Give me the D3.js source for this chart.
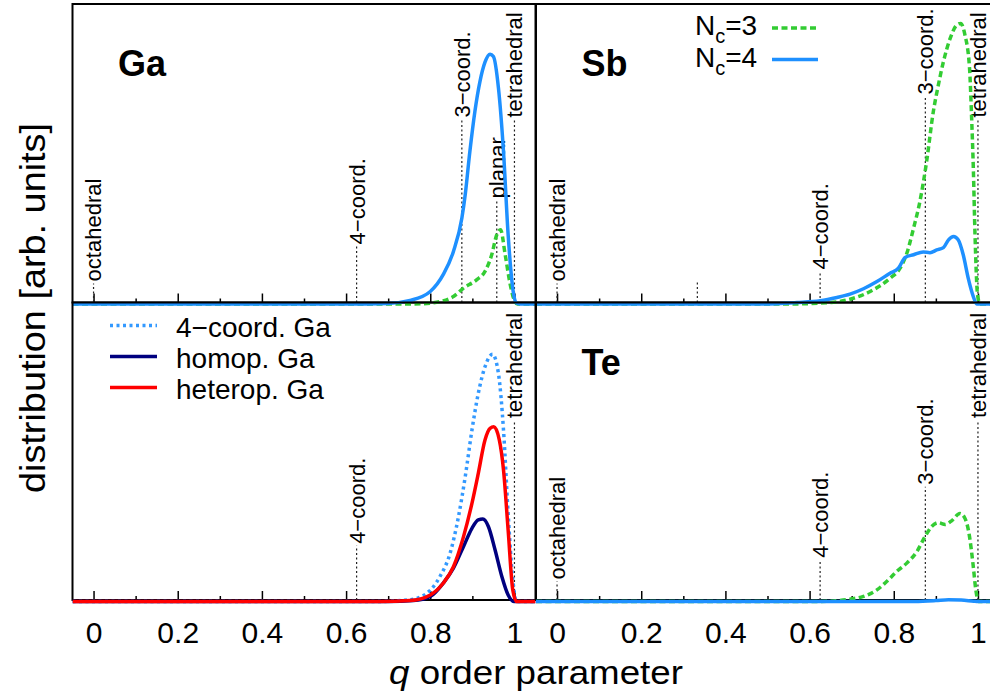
<!DOCTYPE html>
<html>
<head>
<meta charset="utf-8">
<script src="https://cdn.jsdelivr.net/npm/d3@7"></script>
<style>
  html, body { margin: 0; padding: 0; background: #fff; }
  svg { display: block; font-family: "Liberation Sans", Arial, Helvetica, sans-serif; }
</style>
</head>
<body>
<svg id="chart" width="990" height="697"></svg>
<script>
// ---- data: q order parameter distributions, [q, value] with values in arbitrary units ----
const gaNc3 = [[-0.05,0],[0.76,0],[0.80,0.3],[0.823,0.8],[0.855,2.5],[0.879,5.3],[0.910,8.1],[0.930,10.9],[0.946,16.5],[0.958,23.2],[0.967,24.9],[0.978,16.5],[0.990,6.5],[0.999,1.5],[1.007,0],[1.05,0]];
const gaNc4 = [[-0.05,0],[0.60,0],[0.70,0.2],[0.752,1.2],[0.80,4.2],[0.831,9.9],[0.855,17.6],[0.875,28.7],[0.883,36.6],[0.894,51],[0.906,64.5],[0.918,74.5],[0.930,81],[0.942,83.7],[0.950,82.9],[0.962,72.3],[0.974,51],[0.985,23.2],[0.997,4.2],[1.005,0.3],[1.012,0],[1.05,0]];
const sbNc3 = [[-0.05,0],[0.55,0],[0.649,0.5],[0.696,1.6],[0.744,4.2],[0.791,8.6],[0.815,12],[0.831,17],[0.847,25.4],[0.862,34.3],[0.878,47.7],[0.894,64.5],[0.906,73.4],[0.918,81.2],[0.934,89],[0.950,93.5],[0.959,94],[0.969,90.2],[0.980,79],[0.985,62.2],[0.989,45.5],[0.993,23.2],[0.999,3.1],[1.005,0],[1.05,0]];
const sbNc4 = [[-0.05,0],[0.49,0],[0.57,0.5],[0.625,1.1],[0.665,2.2],[0.696,3.3],[0.728,5.1],[0.760,7.5],[0.791,10.3],[0.811,12],[0.827,15.6],[0.847,16.5],[0.870,17.4],[0.886,17.2],[0.902,18.1],[0.918,18.9],[0.930,21.5],[0.942,22.6],[0.953,21.5],[0.965,16.5],[0.977,8.6],[0.989,2.5],[0.997,0],[1.05,0]];
const gaCoord4 = [[-0.05,0],[0.673,0],[0.752,0.6],[0.792,2.8],[0.823,8.4],[0.847,16.2],[0.867,28.5],[0.883,41.9],[0.899,57.6],[0.914,69.9],[0.930,78.9],[0.948,83.1],[0.962,76.6],[0.974,57.6],[0.985,29.6],[0.996,7.3],[1.005,0],[1.05,0]];
const gaHomop = [[-0.05,0],[0.70,0],[0.76,0.3],[0.80,1.7],[0.831,6.2],[0.855,11.2],[0.879,18.5],[0.899,24.6],[0.914,27.4],[0.925,27.7],[0.938,25.2],[0.954,17.3],[0.970,8.4],[0.985,2.2],[0.999,0],[1.05,0]];
const gaHeterop = [[-0.05,0],[0.68,0],[0.752,0.3],[0.80,2.2],[0.831,6.2],[0.855,11.7],[0.879,21.8],[0.899,33],[0.914,43],[0.930,54.3],[0.942,58.2],[0.951,58.7],[0.964,54.3],[0.974,44.2],[0.985,24],[0.996,3.9],[1.005,0],[1.05,0]];
const teNc3 = [[-0.05,0],[0.62,0],[0.696,0.8],[0.728,1.7],[0.760,3.9],[0.783,6.7],[0.807,10.1],[0.831,12.9],[0.855,16.8],[0.874,21.8],[0.890,25.2],[0.906,26.5],[0.922,25.9],[0.938,27.2],[0.957,29.6],[0.969,28],[0.980,21.8],[0.988,12.9],[0.995,3.9],[1.001,0],[1.05,0]];
const teNc4 = [[-0.05,0],[0.85,0],[0.90,0.3],[0.93,0.6],[0.96,0.5],[0.99,0.1],[1.0,0],[1.05,0]];

// reference geometries on the q axis
const refQ = { octahedral: 0, coord4: 0.625, coord3: 0.875, planar: 0.958, tetrahedral: 1, third: 1/3 };
const refText = { octahedral: "octahedral", coord4: "4\u2212coord.", coord3: "3\u2212coord.", planar: "planar", tetrahedral: "tetrahedral", third: "" };

// axis ticks
const majorTicks = [0, 0.2, 0.4, 0.6, 0.8, 1];
const tickLabels = ["0", "0.2", "0.4", "0.6", "0.8", "1"];
const minorTicks = [0.1, 0.3, 0.5, 0.7, 0.9];

// ---- styling ----
const GREEN = "#33cc33", BLUE = "#1e90ff", LIGHTBLUE = "#3399ff", NAVY = "#00007f", RED = "#ff0000";
const styles = {
  nc3:     { stroke: GREEN, dash: "6,3.5", width: 3.5 },
  nc4:     { stroke: BLUE, dash: null, width: 3.5 },
  coord4:  { stroke: LIGHTBLUE, dash: "3,3.5", width: 3.5 },
  homop:   { stroke: NAVY, dash: null, width: 3.5 },
  heterop: { stroke: RED, dash: null, width: 3.5 }
};

// panel layout: column/row, curves, and the height (value units) where each reference label starts
const panels = [
  { id: "ga", col: 0, row: 0, label: "Ga",
    series: [{ data: gaNc3, style: "nc3" }, { data: gaNc4, style: "nc4" }],
    refs: [["octahedral", 6.9], ["coord4", 19.3], ["coord3", 61.8], ["planar", 34.7], ["tetrahedral", 61.8]] },
  { id: "sb", col: 1, row: 0, label: "Sb",
    series: [{ data: sbNc3, style: "nc3" }, { data: sbNc4, style: "nc4" }],
    refs: [["octahedral", 6.9], ["third", 7.9], ["coord4", 10.9], ["coord3", 69.5], ["tetrahedral", 61.8]] },
  { id: "ga2", col: 0, row: 1, label: null,
    series: [{ data: gaCoord4, style: "coord4" }, { data: gaHomop, style: "homop" }, { data: gaHeterop, style: "heterop" }],
    refs: [["coord4", 18.7], ["tetrahedral", 61]] },
  { id: "te", col: 1, row: 1, label: "Te",
    series: [{ data: teNc3, style: "nc3" }, { data: teNc4, style: "nc4" }],
    refs: [["octahedral", 6.7], ["coord4", 14], ["coord3", 38.6], ["tetrahedral", 61]] }
];

const qDomain = [-0.05, 1.05];
const colX = [[72.5, 535.5], [536, 999]];
const rowY = [[4, 302.5], [302.5, 600]];

const svg = d3.select("#chart");
const defs = svg.append("defs");

panels.forEach(p => {
  const [x0, x1] = colX[p.col];
  const [y0, y1] = rowY[p.row];
  const x = d3.scaleLinear().domain(qDomain).range([x0, x1]);
  const y = d3.scaleLinear().domain([0, 100]).range([y1 + 1.5, y0 + 1.5]);
  const g = svg.append("g").attr("class", "panel-" + p.id);

  defs.append("clipPath").attr("id", "clip-" + p.id)
    .append("rect").attr("x", x0).attr("y", y0).attr("width", x1 - x0).attr("height", y1 - y0 + 4);

  // frame
  g.append("rect").attr("x", x0).attr("y", y0).attr("width", x1 - x0).attr("height", y1 - y0)
    .attr("fill", "none").attr("stroke", "#000").attr("stroke-width", 2);

  // major and minor ticks pointing into the panel
  const major = d3.axisBottom(x).tickValues(majorTicks).tickSizeInner(-9).tickSizeOuter(0).tickPadding(22)
    .tickFormat((d, i) => p.row === 1 ? tickLabels[i] : "");
  const ag = g.append("g").attr("transform", `translate(0,${y1})`).call(major);
  ag.select(".domain").remove();
  ag.attr("font-family", null).attr("font-size", null);
  ag.selectAll("line").attr("stroke", "#000").attr("stroke-width", 1.5);
  ag.selectAll("text").attr("fill", "#000").attr("font-size", 30);

  const minor = d3.axisBottom(x).tickValues(minorTicks).tickSizeInner(-4).tickSizeOuter(0).tickFormat("");
  const mg = g.append("g").attr("transform", `translate(0,${y1})`).call(minor);
  mg.select(".domain").remove();
  mg.selectAll("line").attr("stroke", "#000").attr("stroke-width", 1.5);

  // reference geometry markers: dotted line from the axis up to the rotated label
  p.refs.forEach(([key, h]) => {
    const xq = x(refQ[key]);
    g.append("line").attr("x1", xq).attr("x2", xq).attr("y1", y1).attr("y2", y(h))
      .attr("stroke", "#222").attr("stroke-width", 1.2).attr("stroke-dasharray", "2,2.5");
    if (refText[key]) {
      g.append("text").attr("transform", `translate(${xq},${y(h) - 2}) rotate(-90)`)
        .attr("dy", "0.36em").attr("font-size", 22).attr("fill", "#000").text(refText[key]);
    }
  });

  // distribution curves
  const line = d3.line().x(d => x(d[0])).y(d => y(d[1])).curve(d3.curveMonotoneX);
  const cg = g.append("g").attr("clip-path", `url(#clip-${p.id})`);
  p.series.forEach(s => {
    const st = styles[s.style];
    cg.append("path").datum(s.data).attr("d", line)
      .attr("fill", "none").attr("stroke", st.stroke).attr("stroke-width", st.width)
      .attr("stroke-dasharray", st.dash).attr("stroke-linejoin", "round");
  });

  // element label
  if (p.label) {
    g.append("text").attr("x", x0 + 45.5).attr("y", y0 + 72)
      .attr("font-size", 36).attr("font-weight", "bold").attr("fill", "#000").text(p.label);
  }
});

// legend for coordination numbers (Sb panel)
const ncLegend = [{ n: "3", style: "nc3" }, { n: "4", style: "nc4" }];
const lg1 = svg.append("g");
ncLegend.forEach((d, i) => {
  const base = 35 + i * 31.5;
  const t = lg1.append("text").attr("x", 695).attr("y", base).attr("font-size", 28).attr("fill", "#000");
  t.append("tspan").text("N");
  t.append("tspan").attr("font-size", 20).attr("dy", 8).text("c");
  t.append("tspan").attr("dy", -8).text("=" + d.n);
  const st = styles[d.style];
  lg1.append("line").attr("x1", 772).attr("x2", 818).attr("y1", base - 7).attr("y2", base - 7)
    .attr("stroke", st.stroke).attr("stroke-width", st.width).attr("stroke-dasharray", st.dash);
});

// legend for the Ga environments (lower left panel)
const gaLegend = [{ t: "4\u2212coord. Ga", style: "coord4" }, { t: "homop. Ga", style: "homop" }, { t: "heterop. Ga", style: "heterop" }];
const lg2 = svg.append("g");
gaLegend.forEach((d, i) => {
  const base = 336.5 + i * 31;
  const st = styles[d.style];
  lg2.append("line").attr("x1", 110).attr("x2", 157).attr("y1", base - 11).attr("y2", base - 11)
    .attr("stroke", st.stroke).attr("stroke-width", st.width).attr("stroke-dasharray", st.dash);
  lg2.append("text").attr("x", 176).attr("y", base).attr("font-size", 28).attr("fill", "#000").text(d.t);
});

// axis titles
svg.append("text").attr("x", 536).attr("y", 684).attr("text-anchor", "middle")
  .attr("font-size", 34).attr("fill", "#000").attr("textLength", 294).attr("lengthAdjust", "spacingAndGlyphs")
  .call(t => {
    t.append("tspan").attr("font-style", "italic").text("q");
    t.append("tspan").text(" order parameter");
  });

svg.append("text").attr("transform", "translate(44.5,308) rotate(-90)").attr("text-anchor", "middle")
  .attr("font-size", 35).attr("fill", "#000").attr("textLength", 370).attr("lengthAdjust", "spacingAndGlyphs")
  .text("distribution [arb. units]");
</script>
</body>
</html>
